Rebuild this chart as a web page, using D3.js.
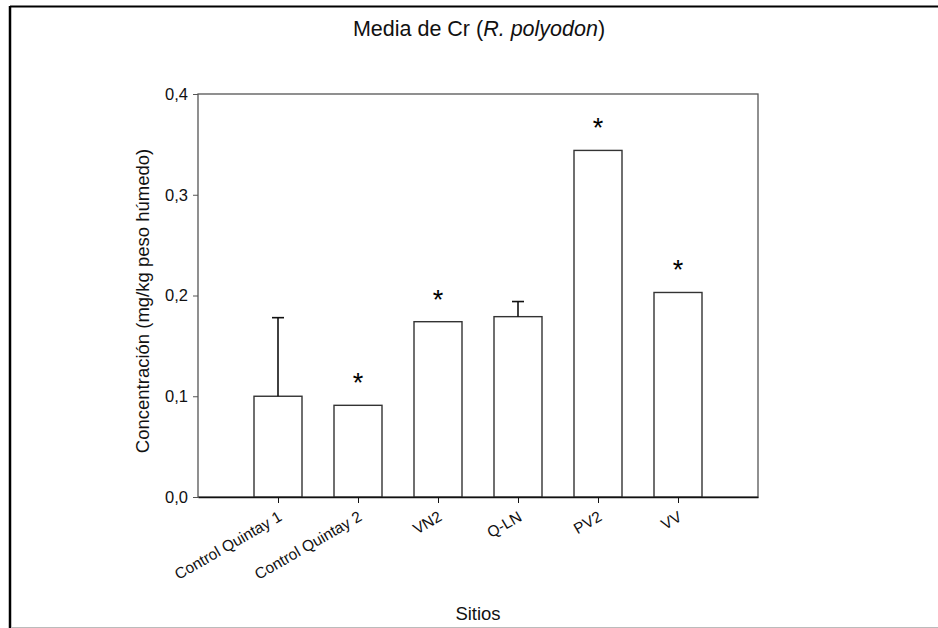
<!DOCTYPE html>
<html>
<head>
<meta charset="utf-8">
<script src="https://cdn.jsdelivr.net/npm/d3@7"></script>
<style>
  body { margin: 0; background: #fff; }
  svg { display: block; font-family: "Liberation Sans", Arial, sans-serif; }
</style>
</head>
<body>
<svg width="938" height="628"></svg>
<script>
// data
const sites = ["Control Quintay 1", "Control Quintay 2", "VN2", "Q-LN", "PV2", "VV"];
const means = [0.100, 0.091, 0.174, 0.179, 0.344, 0.203];
const errUp = [0.078, 0, 0, 0.015, 0, 0];
const signif = [false, true, true, false, true, true];
const yTicks = [0, 0.1, 0.2, 0.3, 0.4];

const data = sites.map((s, i) => ({ site: s, mean: means[i], err: errUp[i], sig: signif[i] }));

const svg = d3.select("svg");
const plotL = 198, plotR = 758, plotT = 94, plotB = 497;

// outer frame of the figure
svg.append("line").attr("x1", 10).attr("x2", 938).attr("y1", 6.5).attr("y2", 6.5)
    .attr("stroke", "#000").attr("stroke-width", 2);
svg.append("line").attr("x1", 10).attr("x2", 10).attr("y1", 6).attr("y2", 628)
    .attr("stroke", "#000").attr("stroke-width", 2.5);
svg.append("line").attr("x1", 11).attr("x2", 938).attr("y1", 627.5).attr("y2", 627.5)
    .attr("stroke", "#bbb").attr("stroke-width", 1);

const x = d3.scalePoint()
    .domain(sites)
    .range([plotL, plotR])
    .padding(1);

const y = d3.scaleLinear()
    .domain([0, 0.4])
    .range([plotB, plotT]);

const barW = x.step() * 0.6;

// plot box
svg.append("rect")
    .attr("x", plotL).attr("y", plotT)
    .attr("width", plotR - plotL).attr("height", plotB - plotT)
    .attr("fill", "none").attr("stroke", "#555").attr("stroke-width", 1.3);

// bars
svg.selectAll(".bar")
    .data(data)
    .enter()
    .append("rect")
    .attr("class", "bar")
    .attr("x", d => x(d.site) - barW / 2)
    .attr("y", d => y(d.mean))
    .attr("width", barW)
    .attr("height", d => y(0) - y(d.mean))
    .attr("fill", "#fff")
    .attr("stroke", "#333")
    .attr("stroke-width", 1.4);

// upper error bars
const eb = svg.selectAll(".err")
    .data(data.filter(d => d.err > 0))
    .enter()
    .append("g")
    .attr("class", "err")
    .attr("stroke", "#111")
    .attr("stroke-width", 1.6);
eb.append("line")
    .attr("x1", d => x(d.site)).attr("x2", d => x(d.site))
    .attr("y1", d => y(d.mean)).attr("y2", d => y(d.mean + d.err));
eb.append("line")
    .attr("x1", d => x(d.site) - 6).attr("x2", d => x(d.site) + 6)
    .attr("y1", d => y(d.mean + d.err)).attr("y2", d => y(d.mean + d.err));

// asterisks
svg.selectAll(".star")
    .data(data.filter(d => d.sig))
    .enter()
    .append("text")
    .attr("class", "star")
    .attr("x", d => x(d.site))
    .attr("y", d => y(d.mean + d.err) - 13)
    .attr("text-anchor", "middle")
    .attr("font-size", 27)
    .attr("fill", "#000")
    .text("*");

// axes
const yAxis = svg.append("g")
    .attr("transform", `translate(${plotL},0)`)
    .call(d3.axisLeft(y).tickValues(yTicks).tickSize(5).tickSizeOuter(0)
        .tickFormat(d => d3.format(".1f")(d).replace(".", ",")));
yAxis.select(".domain").remove();
yAxis.selectAll("line").attr("stroke", "#555");
yAxis.selectAll("text").attr("font-size", 16.5).attr("fill", "#111")
    .attr("font-family", "Liberation Sans, Arial, sans-serif").attr("dx", -2);

const xAxis = svg.append("g")
    .attr("transform", `translate(0,${plotB})`)
    .call(d3.axisBottom(x).tickSize(6).tickSizeOuter(0));
xAxis.select(".domain").attr("stroke", "#111").attr("stroke-width", 1.3);
xAxis.selectAll("line").attr("stroke", "#111");
xAxis.selectAll("text")
    .attr("font-size", 15.5).attr("fill", "#111")
    .attr("font-family", "Liberation Sans, Arial, sans-serif")
    .attr("text-anchor", "end")
    .attr("dy", 0)
    .attr("transform", "translate(0,15) rotate(-30)");

// titles
svg.append("text")
    .attr("x", 479).attr("y", 36)
    .attr("text-anchor", "middle")
    .attr("font-size", 21.5)
    .attr("fill", "#111")
    .html('Media de Cr (<tspan font-style="italic">R. polyodon</tspan>)');

svg.append("text")
    .attr("x", 478).attr("y", 620)
    .attr("text-anchor", "middle")
    .attr("font-size", 18.5)
    .attr("fill", "#111")
    .text("Sitios");

svg.append("text")
    .attr("transform", "translate(149,301) rotate(-90)")
    .attr("text-anchor", "middle")
    .attr("font-size", 18.5)
    .attr("fill", "#111")
    .text("Concentración (mg/kg peso húmedo)");
</script>
</body>
</html>
